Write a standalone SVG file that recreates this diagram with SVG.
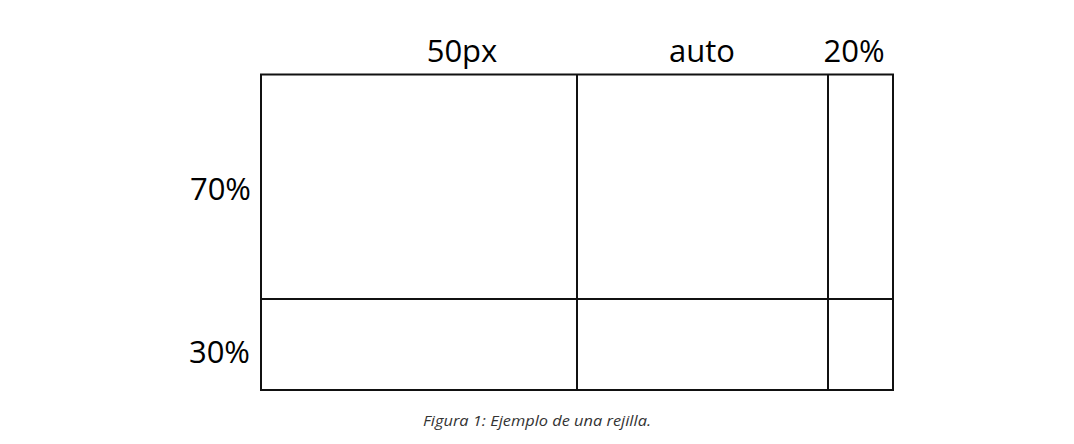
<svg xmlns="http://www.w3.org/2000/svg" width="1074" height="444" viewBox="0 0 1074 444">
<style>
.lbl{font-family:"Open Sans","Liberation Sans",sans-serif;font-size:31px;fill:#000}
.cap{font-family:"Open Sans","Liberation Sans",sans-serif;font-style:italic;font-size:14px;fill:#333}
.ln{stroke:#111;stroke-width:2;fill:none}
</style>
<rect width="1074" height="444" fill="#fff"/>
<g id="grid">
<rect class="ln" x="261" y="74.5" width="632" height="315.5"/>
</g>
<g id="connectors">
<line class="ln" x1="577" y1="74.5" x2="577" y2="390"/>
<line class="ln" x1="828" y1="74.5" x2="828" y2="390"/>
<line class="ln" x1="261" y1="299" x2="893" y2="299"/>
</g>
<g id="labels">
<text class="lbl" x="462" y="62" text-anchor="middle">50px</text>
<text class="lbl" x="702" y="62" text-anchor="middle">auto</text>
<text class="lbl" x="854" y="62" text-anchor="middle">20%</text>
<text class="lbl" x="251" y="200" text-anchor="end">70%</text>
<text class="lbl" x="250" y="363" text-anchor="end">30%</text>
</g>
<text class="cap" x="423" y="426" textLength="228" lengthAdjust="spacingAndGlyphs">Figura 1: Ejemplo de una rejilla.</text>
</svg>
